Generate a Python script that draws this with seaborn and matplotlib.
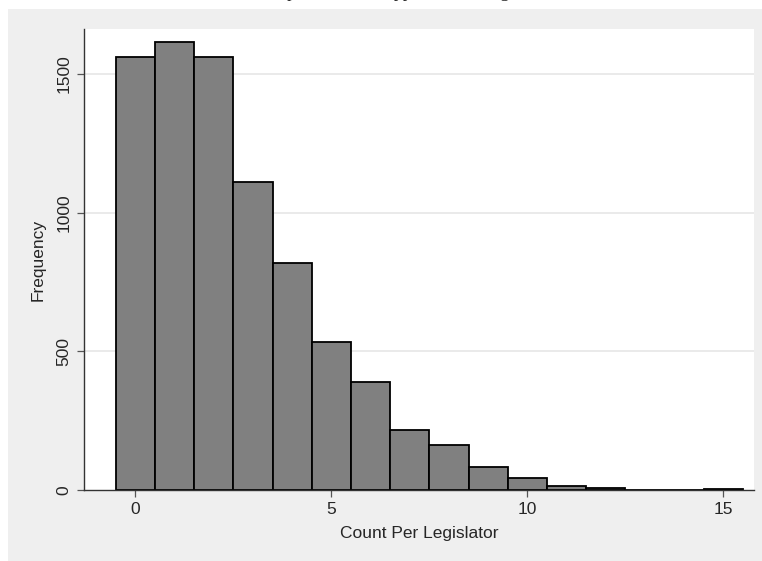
import matplotlib
matplotlib.use("Agg")
import matplotlib.pyplot as plt
import seaborn as sns
import pandas as pd
from matplotlib.patches import Rectangle

# values per legislator (0..15) and how many legislators have each
counts_per_legislator = list(range(16))
frequency = [1562, 1615, 1562, 1112, 817, 535, 389, 216, 162, 84, 43, 16, 7, 1, 0, 3]
x_ticks = [0, 5, 10, 15]
y_ticks = [0, 500, 1000, 1500]

sns.set_theme(style="white")
plt.rcParams["font.family"] = ["Liberation Sans", "DejaVu Sans"]

df = pd.DataFrame({"count": counts_per_legislator, "freq": frequency})

fig = plt.figure(figsize=(7.62, 5.61), dpi=100, facecolor="white")
# stata-like grey graph region
fig.patches.append(Rectangle((8 / 762, 0), 1, 1 - 9 / 561, transform=fig.transFigure,
                             facecolor="#efefef", edgecolor="none", zorder=-10))
# title sits mostly above the canvas, only descenders show (as in the source)
fig.text(415 / 762, 1 + 3 / 561, "Expressions of support in the Legislature",
         ha="center", va="baseline", fontsize=13, family="Liberation Serif")

ax = fig.add_axes([84 / 762, 1 - 490 / 561, 670 / 762, 461 / 561])
ax.set_facecolor("white")

sns.histplot(data=df, x="count", weights="freq", discrete=True, ax=ax,
             color="#808080", edgecolor="black", linewidth=1.3, alpha=1)

ax.set_xlim(-1.31, 15.78)
ax.set_ylim(0, 1662)
ax.set_xticks(x_ticks)
ax.set_yticks(y_ticks)
ax.set_yticklabels([str(v) for v in y_ticks], rotation=90, va="center")
for v in y_ticks[1:]:
    ax.axhline(v, color="#e6e6e6", lw=1.2, zorder=0)

ax.set_xlabel("Count Per Legislator", fontsize=12.5, labelpad=6)
ax.set_ylabel("Frequency", fontsize=12.5, labelpad=8)
ax.tick_params(axis="both", labelsize=12.5, length=5, width=0.9, color="#555555",
               direction="out", bottom=True, left=True, pad=4)

for s in ["top", "right"]:
    ax.spines[s].set_visible(False)
for s in ["left", "bottom"]:
    ax.spines[s].set_color("#333333")
    ax.spines[s].set_linewidth(1.0)

fig.savefig("out.png", dpi=100)
